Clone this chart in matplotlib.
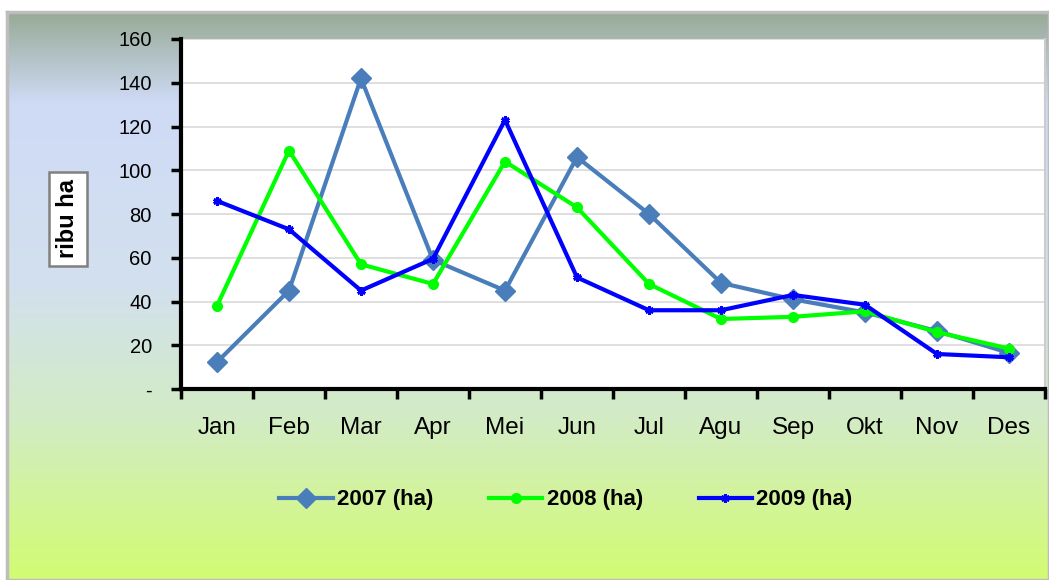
import matplotlib.pyplot as plt
import numpy as np
from matplotlib.colors import LinearSegmentedColormap

months = ["Jan", "Feb", "Mar", "Apr", "Mei", "Jun", "Jul", "Agu", "Sep", "Okt", "Nov", "Des"]
ha_2007 = [12.3, 45, 142, 59, 45, 106, 80, 48.5, 41, 35, 26.5, 16.5]
ha_2008 = [38, 109, 57, 48, 104, 83, 48, 32, 33, 35.5, 26, 18.5]
ha_2009 = [86, 73, 45, 59.5, 123, 51, 36, 36, 43, 38.5, 16, 14.5]
yticks = [0, 20, 40, 60, 80, 100, 120, 140, 160]
ytick_labels = ["-", "20", "40", "60", "80", "100", "120", "140", "160"]

plt.rcParams['font.family'] = ['Liberation Sans', 'DejaVu Sans']

W, H = 1049, 580
fig = plt.figure(figsize=(W / 100, H / 100), dpi=100)

# background panel with vertical gradient
bg = fig.add_axes([7 / W, 0, 1 - 7 / W, (H - 12) / H], zorder=0)
stops = [(0.0, "#98aa96"), (0.16, "#cfdbf6"), (0.48, "#d3e0ee"),
         (0.72, "#d2ecc4"), (1.0, "#d3fc72")]
cmap = LinearSegmentedColormap.from_list("bg", stops)
grad = np.linspace(0, 1, 256).reshape(-1, 1)
bg.imshow(grad, aspect="auto", cmap=cmap, extent=[0, 1, 0, 1], origin="upper")
bg.set_xlim(0, 1)
bg.set_ylim(0, 1)
bg.set_xticks([])
bg.set_yticks([])
for s in bg.spines.values():
    s.set_color("#bdbdbd")
    s.set_linewidth(2.5)

ax = fig.add_axes([181 / W, (H - 389) / H, (1045 - 181) / W, (389 - 39) / H], zorder=1)
ax.set_facecolor("white")
x = np.arange(len(months))

ax.plot(x, ha_2007, color="#4a7ebb", lw=3, marker="D", ms=10, label="2007 (ha)", zorder=3)
ax.plot(x, ha_2008, color="#00ff00", lw=3, marker="o", ms=7, label="2008 (ha)", zorder=4)
ax.plot(x, ha_2009, color="#0000ff", lw=3, marker=(6, 2, 0), ms=6, mew=2, label="2009 (ha)", zorder=5)

ax.set_xlim(-0.5, 11.5)
ax.set_ylim(0, 160)
ax.set_yticks(yticks)
ax.set_yticklabels(ytick_labels, fontsize=14.5)
ax.set_xticks(x)
ax.set_xticklabels(months, fontsize=17.5)
ax.tick_params(axis="x", length=0, pad=20)
ax.set_xticks(np.arange(-0.5, 12, 1), minor=True)
ax.tick_params(axis="x", which="minor", length=7, width=2.5, direction="out")
ax.tick_params(axis="y", length=7, width=2.5, direction="out", pad=14)
ax.grid(axis="y", color="#d9d9d9", lw=1.2)
ax.set_axisbelow(True)
for side in ["left", "bottom"]:
    ax.spines[side].set_linewidth(3)
    ax.spines[side].set_color("black")
ax.spines["top"].set_visible(False)
ax.spines["right"].set_color("#cccccc")
ax.spines["right"].set_linewidth(1.5)

fig.text(68 / W, 1 - 219 / H, "ribu ha", rotation=90, ha="center", va="center",
         fontsize=17, fontweight="bold",
         bbox=dict(boxstyle="square,pad=0.3", fc="white", ec="#808080", lw=1.8))

leg = fig.legend(loc="center", bbox_to_anchor=(566 / W, 1 - 500 / H), ncol=3,
                 frameon=False, prop=dict(size=16, weight="bold"),
                 handlelength=2.4, handletextpad=0.2, columnspacing=2.5)

fig.savefig("out.png", dpi=100)
